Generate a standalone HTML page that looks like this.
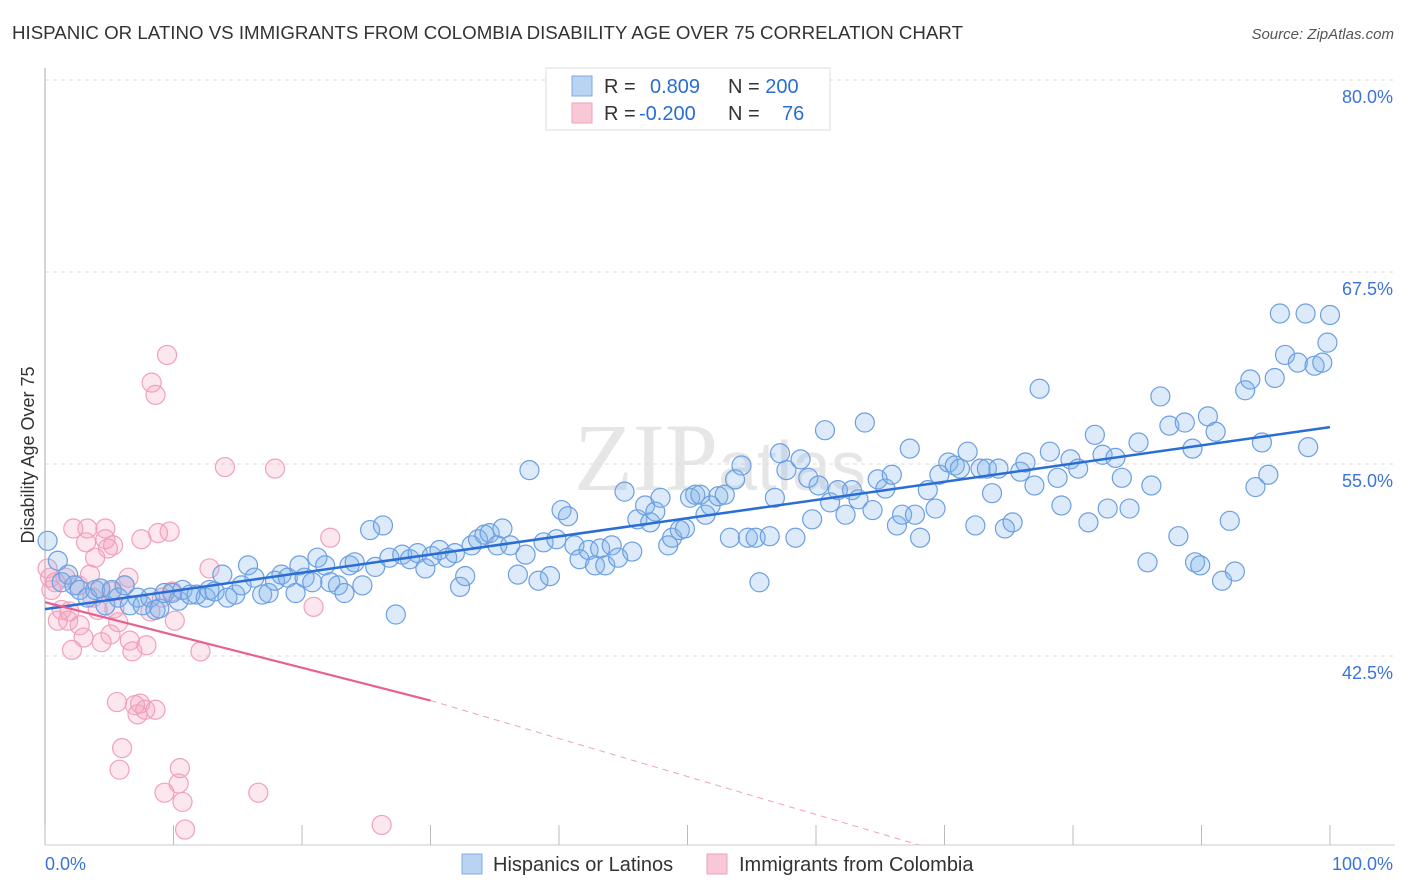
<!DOCTYPE html>
<html><head><meta charset="utf-8"><style>
body{margin:0;background:#fff;font-family:"Liberation Sans",sans-serif;}
svg{display:block}
</style></head><body>
<svg id="chart" width="1406" height="892">
<text x="12" y="39" font-size="18" fill="#333" textLength="951" lengthAdjust="spacingAndGlyphs">HISPANIC OR LATINO VS IMMIGRANTS FROM COLOMBIA DISABILITY AGE OVER 75 CORRELATION CHART</text>
<text x="1394" y="39" font-size="15" fill="#555" font-style="italic" text-anchor="end">Source: ZipAtlas.com</text>
<text x="720" y="490" font-size="96" fill="#e6e6e6" text-anchor="middle" font-family="Liberation Serif,serif">ZIP<tspan font-family="Liberation Sans,sans-serif" font-size="70">atlas</tspan></text>
<g id="grid"></g>
<g id="pts"></g>
<g id="lines"></g>
<text transform="translate(34,455) rotate(-90)" font-size="18" fill="#333" text-anchor="middle">Disability Age Over 75</text>
<text x="45" y="870" font-size="18" fill="#3b73d9">0.0%</text>
<text x="1393" y="870" font-size="18" fill="#3b73d9" text-anchor="end">100.0%</text>
<g>
<rect x="546" y="68" width="284" height="62" fill="#fff" stroke="#ddd"/>
<rect x="572" y="76" width="20" height="20" fill="#b9d3f3" stroke="#7eaae6"/>
<rect x="572" y="103" width="20" height="20" fill="#f9c8d7" stroke="#f0a0bb"/>
<text x="604" y="93" font-size="20" fill="#333">R =  <tspan fill="#2a6dd4" x="650">0.809</tspan><tspan x="728">N = </tspan><tspan fill="#2a6dd4">200</tspan></text>
<text x="604" y="120" font-size="20" fill="#333">R = <tspan fill="#2a6dd4" x="639">-0.200</tspan><tspan x="728">N = </tspan><tspan fill="#2a6dd4" x="782">76</tspan></text>
</g>
<g>
<rect x="462" y="854" width="20" height="20" fill="#b9d3f3" stroke="#7eaae6"/>
<text x="493" y="871" font-size="20" fill="#333">Hispanics or Latinos</text>
<rect x="707" y="854" width="20" height="20" fill="#f9c8d7" stroke="#f0a0bb"/>
<text x="739" y="871" font-size="20" fill="#333">Immigrants from Colombia</text>
</g>
</svg>
<script>
const yTicks=[80,67.5,55,42.5];
const yTickLabels=["80.0%","67.5%","55.0%","42.5%"];
const xTicks=[0,10,20,30,40,50,60,70,80,90,100];
const blueX=[0.2,1.0,1.3,1.8,2.3,2.7,3.3,3.9,4.3,4.7,5.2,5.7,6.2,6.6,7.2,7.6,8.2,8.6,8.9,9.3,9.9,10.4,10.7,11.3,11.8,12.5,12.8,13.2,13.8,14.2,14.8,15.3,15.8,16.3,16.9,17.4,17.9,18.4,18.9,19.5,19.8,20.2,20.8,21.2,21.8,22.2,22.8,23.3,23.7,24.1,24.7,25.3,25.7,26.3,26.8,27.3,27.8,28.4,29.0,29.6,30.1,30.7,31.3,31.9,32.3,32.7,33.2,33.7,34.2,34.6,35.2,35.6,36.2,36.8,37.4,37.7,38.4,38.8,39.3,39.8,40.2,40.7,41.2,41.6,42.3,42.8,43.2,43.6,44.1,44.6,45.1,45.7,46.1,46.7,47.1,47.5,47.9,48.5,48.8,49.4,49.8,50.2,50.6,51.0,51.4,51.8,52.4,52.9,53.3,53.7,54.2,54.7,55.3,55.6,56.4,56.8,57.2,57.7,58.4,58.8,59.4,59.7,60.2,60.7,61.1,61.7,62.3,62.8,63.3,63.8,64.4,64.8,65.4,65.9,66.3,66.7,67.3,67.7,68.1,68.7,69.3,69.6,70.3,70.8,71.2,71.8,72.4,72.8,73.3,73.7,74.2,74.7,75.3,75.9,76.3,77.0,77.4,78.2,78.8,79.1,79.8,80.4,81.2,81.7,82.3,82.7,83.3,83.8,84.4,85.1,85.8,86.1,86.8,87.5,88.2,88.7,89.3,89.5,89.9,90.5,91.1,91.6,92.2,92.6,93.4,93.8,94.2,94.7,95.2,95.7,96.1,96.5,97.5,98.1,98.8,99.4,99.8,100.0,98.3];
const blueY=[50.0,48.7,47.3,47.8,47.1,46.8,46.3,46.8,46.9,45.8,46.8,46.3,47.1,45.8,46.3,45.8,46.3,45.5,45.6,46.6,46.6,46.1,46.8,46.5,46.5,46.3,46.8,46.7,47.8,46.3,46.5,47.1,48.4,47.6,46.5,46.6,47.4,47.8,47.6,46.6,48.4,47.6,47.3,48.9,48.4,47.3,47.1,46.6,48.4,48.6,47.1,50.7,48.3,51.0,48.9,45.2,49.1,48.8,49.2,48.2,49.0,49.4,48.9,49.2,47.0,47.7,49.7,50.1,50.4,50.5,49.7,50.8,49.7,47.8,49.1,54.6,47.4,49.9,47.7,50.1,52.0,51.6,49.7,48.8,49.4,48.4,49.5,48.4,49.7,48.9,53.2,49.3,51.4,52.3,51.2,51.9,52.8,49.7,50.2,50.7,50.8,52.8,53.0,53.0,51.7,52.3,52.9,53.0,50.2,54.0,54.9,50.2,50.2,47.3,50.3,52.8,55.7,54.6,50.2,55.3,54.1,51.4,53.6,57.2,52.5,53.3,51.7,53.3,52.7,57.7,52.0,54.0,53.4,54.3,51.0,51.7,56.0,51.7,50.2,53.3,52.1,54.3,55.1,54.9,54.7,55.8,51.0,54.7,54.7,53.1,54.7,50.8,51.2,54.5,55.1,53.6,59.9,55.8,54.1,52.3,55.3,54.7,51.2,56.9,55.6,52.1,55.4,54.1,52.1,56.4,48.6,53.6,59.4,57.5,50.3,57.7,56.0,48.6,48.4,58.1,57.1,47.4,51.3,48.0,59.8,60.5,53.5,56.4,54.3,60.6,64.8,62.1,61.6,64.8,61.4,61.6,62.9,64.7,56.1];
const pinkX=[0.2,0.4,0.5,0.8,1.0,1.3,1.6,1.8,1.9,2.1,2.2,2.6,2.7,3.0,3.2,3.3,3.5,3.7,3.9,4.1,4.3,4.4,4.7,4.7,4.9,5.1,5.2,5.3,5.4,5.6,5.7,5.8,6.0,6.2,6.5,6.6,6.8,7.0,7.2,7.4,7.5,7.8,7.9,8.2,8.3,8.6,8.6,8.8,9.1,9.3,9.5,9.7,9.9,10.1,10.4,10.5,10.7,10.9,12.1,12.8,14.0,16.6,17.9,20.9,22.2,26.2];
const pinkY=[48.2,47.6,46.8,47.3,44.8,45.5,47.6,44.8,45.4,42.9,50.8,47.1,44.5,43.7,49.9,50.8,47.8,46.3,48.9,45.5,46.9,43.4,50.8,50.1,49.5,43.9,46.7,49.7,45.6,39.5,44.7,35.1,36.5,47.1,47.6,43.5,42.8,39.3,38.7,39.4,50.1,39.0,43.2,45.4,60.3,59.5,39.0,50.5,46.3,33.6,62.1,50.6,46.7,44.8,34.2,35.2,33.0,31.2,42.8,48.2,54.8,33.6,54.7,45.7,50.2,31.5];
const blueTrend=[[0,45.55],[100,57.4]];
const pinkTrendSolid=[[0,46.0],[30,39.6]];
const pinkTrendDash=[[30,39.6],[68,30.2]];

const NS="http://www.w3.org/2000/svg";
const X=v=>45+v*12.85;
const Y=v=>80+(80-v)*15.36;
function mk(tag,attrs,parent){const e=document.createElementNS(NS,tag);for(const k in attrs)e.setAttribute(k,attrs[k]);parent.appendChild(e);return e;}
const grid=document.getElementById('grid');
yTicks.forEach((t,i)=>{
  const l=mk('line',{x1:45,x2:1395,y1:Y(t),y2:Y(t),stroke:'#ddd','stroke-dasharray':'4,4'},grid);
  
  
  const tx=mk('text',{x:1393,y:Y(t)+23,'font-size':18,fill:'#3b73d9','text-anchor':'end'},grid);
  tx.textContent=yTickLabels[i];
  
  
});
const ax=mk('line',{x1:45,x2:45,y1:68,y2:845,stroke:'#aaa'},grid);


const bx=mk('line',{x1:45,x2:1395,y1:845,y2:845,stroke:'#ccc'},grid);


xTicks.forEach(t=>{
  const l=mk('line',{x1:X(t),x2:X(t),y1:825,y2:845,stroke:'#bbb'},grid);
  
  
});
const pts=document.getElementById('pts');
pinkX.forEach((v,i)=>{
  const c=mk('circle',{cx:X(v),cy:Y(pinkY[i]),r:9.5,fill:'rgba(244,160,188,0.25)',stroke:'#f0a0bb','stroke-width':1.2},pts);
  
  
});
blueX.forEach((v,i)=>{
  const c=mk('circle',{cx:X(v),cy:Y(blueY[i]),r:9.5,fill:'rgba(130,178,235,0.28)',stroke:'#6c9fe2','stroke-width':1.2},pts);
  
  
});
const lines=document.getElementById('lines');
const b=mk('line',{x1:X(blueTrend[0][0]),y1:Y(blueTrend[0][1]),x2:X(blueTrend[1][0]),y2:Y(blueTrend[1][1]),stroke:'#2a6dd4','stroke-width':2.5},lines);


const p=mk('line',{x1:X(pinkTrendSolid[0][0]),y1:Y(pinkTrendSolid[0][1]),x2:X(pinkTrendSolid[1][0]),y2:Y(pinkTrendSolid[1][1]),stroke:'#e8608f','stroke-width':2.2},lines);


const pd=mk('line',{x1:X(pinkTrendDash[0][0]),y1:Y(pinkTrendDash[0][1]),x2:X(pinkTrendDash[1][0]),y2:Y(pinkTrendDash[1][1]),stroke:'#f0a0bb','stroke-width':1,'stroke-dasharray':'6,5'},lines);


</script>
</body></html>
